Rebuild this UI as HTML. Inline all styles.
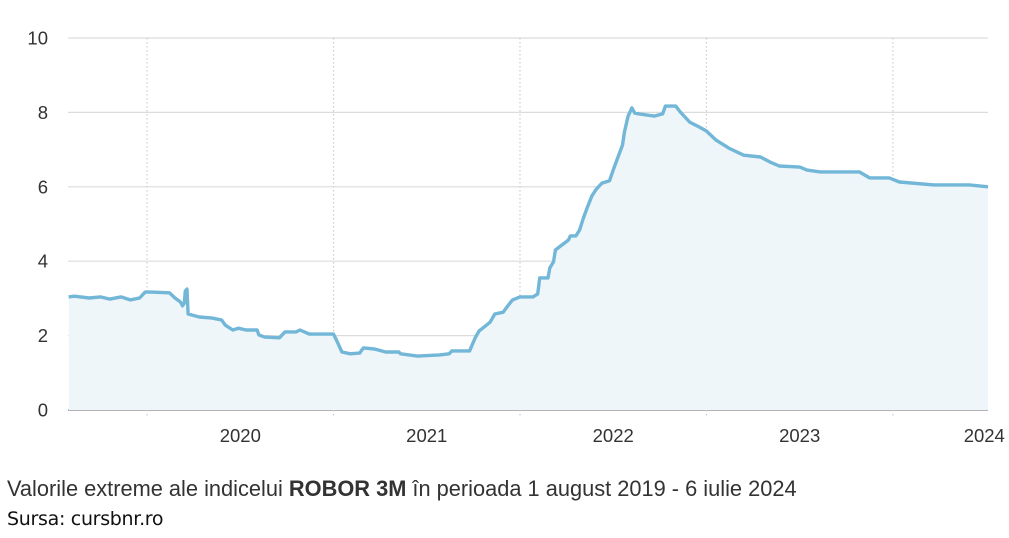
<!DOCTYPE html>
<html><head><meta charset="utf-8"><style>
body{margin:0;background:#fff;width:1009px;height:538px;overflow:hidden;font-family:"Liberation Sans",Arial,sans-serif}
#cap{position:absolute;left:7px;top:476px;font-size:21.8px;color:#333}
#src{position:absolute;left:7px;top:508px;font-size:19px;color:#111;font-family:"DejaVu Sans","Liberation Sans",sans-serif;letter-spacing:-0.3px}
</style></head><body>
<svg id="chart" width="1009" height="470" style="position:absolute;left:0;top:0"></svg>
<div id="cap">Valorile extreme ale indicelui <b>ROBOR 3M</b> în perioada 1 august 2019 - 6 iulie 2024</div>
<div id="src">Sursa: cursbnr.ro</div>
<script>
const years=[2019.58,2019.61,2019.69,2019.75,2019.80,2019.86,2019.91,2019.96,2019.99,2020.02,2020.12,2020.15,2020.18,2020.19,2020.20,2020.205,2020.214,2020.22,2020.28,2020.35,2020.40,2020.42,2020.46,2020.49,2020.53,2020.59,2020.60,2020.63,2020.71,2020.74,2020.80,2020.82,2020.87,2021.00,2021.02,2021.045,2021.09,2021.14,2021.16,2021.22,2021.28,2021.35,2021.36,2021.45,2021.57,2021.62,2021.635,2021.73,2021.76,2021.78,2021.82,2021.84,2021.865,2021.91,2021.93,2021.96,2022.00,2022.07,2022.095,2022.106,2022.15,2022.16,2022.18,2022.19,2022.21,2022.26,2022.27,2022.30,2022.32,2022.34,2022.36,2022.385,2022.41,2022.44,2022.48,2022.50,2022.52,2022.55,2022.56,2022.58,2022.60,2022.615,2022.64,2022.72,2022.765,2022.78,2022.835,2022.86,2022.91,2022.96,2023.00,2023.05,2023.12,2023.20,2023.29,2023.34,2023.39,2023.50,2023.54,2023.61,2023.82,2023.875,2023.98,2024.035,2024.22,2024.41,2024.51];
const values=[3.04,3.06,3.01,3.04,2.98,3.04,2.96,3.01,3.17,3.17,3.15,3.01,2.90,2.80,2.88,3.20,3.25,2.58,2.50,2.47,2.42,2.28,2.15,2.20,2.15,2.15,2.02,1.96,1.94,2.10,2.10,2.15,2.04,2.04,1.83,1.56,1.51,1.53,1.67,1.64,1.56,1.56,1.51,1.45,1.48,1.51,1.59,1.59,1.94,2.12,2.28,2.36,2.58,2.63,2.77,2.96,3.04,3.04,3.12,3.55,3.55,3.82,3.98,4.30,4.38,4.57,4.68,4.68,4.84,5.16,5.43,5.75,5.94,6.10,6.16,6.45,6.72,7.12,7.47,7.90,8.12,7.98,7.96,7.90,7.96,8.17,8.17,8.01,7.74,7.61,7.50,7.26,7.04,6.85,6.80,6.67,6.56,6.53,6.45,6.40,6.40,6.24,6.24,6.13,6.05,6.05,6.00];
const yTicks=[0,2,4,6,8,10];
const xGridYears=[2020,2021,2022,2023,2024];
const xLabels=["2020","2021","2022","2023","2024"];
const xLabelYears=[2020.5,2021.5,2022.5,2023.5,2024.49];
const NS="http://www.w3.org/2000/svg",svg=document.getElementById('chart');
const L=68,R=988,T=38,B=410,t0=2019.576,t1=2024.51;
const xs=t=>L+(t-t0)/(t1-t0)*(R-L), ys=v=>B-v/10*(B-T);
function mk(tag,a){const e=document.createElementNS(NS,tag);for(const k in a)e.setAttribute(k,a[k]);svg.appendChild(e);return e;}
yTicks.forEach(v=>{
 const g=mk('line',{x1:L,x2:R,y1:ys(v),y2:ys(v),stroke:v===0?'#999':'#dcdcdc','stroke-width':v===0?1.5:1.2});
 
 
 const t=mk('text',{x:48,y:ys(v)+6.5,'text-anchor':'end','font-size':18.5,fill:'#333'});t.textContent=v;
 
 
});
xGridYears.forEach(y=>{
 const g=mk('line',{x1:xs(y),x2:xs(y),y1:T,y2:418,stroke:'#ccc','stroke-width':1.2,'stroke-dasharray':'1.5,2.5'});
 
 
});
xLabels.forEach((s,i)=>{
 const t=mk('text',{x:xs(xLabelYears[i]),y:442,'text-anchor':'middle','font-size':18.5,fill:'#333'});t.textContent=s;
 
 
});
let d='';years.forEach((t,i)=>{d+=(i?'L':'M')+xs(t).toFixed(1)+','+ys(values[i]).toFixed(1);});
const area=mk('path',{d:d+'L'+xs(years[years.length-1])+','+B+'L'+xs(years[0])+','+B+'Z',fill:'#eef6fa'});


const line=mk('path',{d:d,fill:'none',stroke:'#72b6d8','stroke-width':3.4,'stroke-linejoin':'round'});


</script>
</body></html>
